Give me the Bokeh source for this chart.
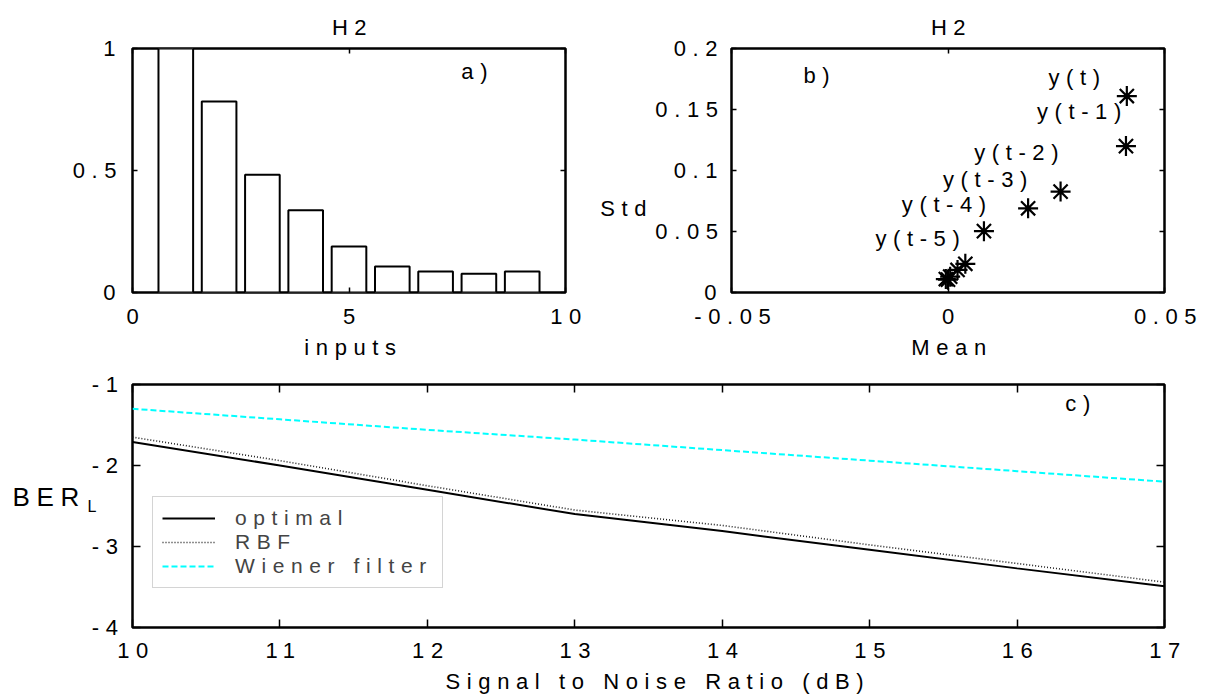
import math
from bokeh.plotting import figure
from bokeh.layouts import column, row
from bokeh.models import (Range1d, FixedTicker, CustomJSTickFormatter, LinearAxis,
                          Label, Legend, LegendItem, InlineStyleSheet,
                          CustomLabelingPolicy)
from bokeh.embed import file_html
from bokeh.resources import INLINE
from bokeh.core.properties import value

FONT = "Liberation Sans"
FS = "22px"

# ---------------- data ----------------
# a) input relevance (H2)
input_index = [1, 2, 3, 4, 5, 6, 7, 8, 9]
input_weight = [1.0, 0.783, 0.483, 0.337, 0.189, 0.107, 0.086, 0.077, 0.086]

# b) mean / std per lagged input (H2)
lag_mean = [0.0413, 0.0411, 0.0260, 0.0185, 0.0083, 0.0040, 0.0022, 0.0005, -0.0005, 0.0000]
lag_std = [0.161, 0.120, 0.0827, 0.069, 0.0503, 0.0235, 0.0185, 0.0130, 0.0110, 0.0105]
lag_labels = ["y(t)", "y(t-1)", "y(t-2)", "y(t-3)", "y(t-4)", "y(t-5)"]
label_mean = [0.0290, 0.0300, 0.0155, 0.0083, -0.0012, -0.0073]
label_std = [0.1766, 0.1480, 0.1150, 0.0930, 0.0723, 0.0440]

# c) log BER vs SNR
snr_db = [10, 11, 12, 13, 14, 15, 16, 17]
ber_optimal = [-1.71, -2.00, -2.30, -2.60, -2.81, -3.04, -3.27, -3.49]
ber_rbf = [-1.65, -1.94, -2.25, -2.55, -2.74, -2.98, -3.21, -3.44]
ber_wiener = [-1.30, -1.43, -1.56, -1.68, -1.81, -1.94, -2.07, -2.20]
series_names = ["optimal", "RBF", "Wiener filter"]

x_ticks_a = [0, 5, 10]
y_ticks_a = [0, 0.5, 1]
x_ticks_b = [-0.05, 0, 0.05]
y_ticks_b = [0, 0.05, 0.1, 0.15, 0.2]
x_ticks_c = [10, 11, 12, 13, 14, 15, 16, 17]
y_ticks_c = [-4, -3, -2, -1]

# heights at which the horizontal y-axis titles sit
std_title_at = 0.0685
ber_title_at = -2.395
sub_title_at = -2.512

# wide letter spacing as in the original; trailing blanks make Bokeh's
# measured width equal to the spaced, drawn width so alignment stays right
css = InlineStyleSheet(css=":host { letter-spacing: 6.6px; }")


def sp(t):
    return t + " " * (len(t) - 1)


fmt = CustomJSTickFormatter(
    code="const s = String(tick); return s + ' '.repeat(Math.max(s.length - 1, 0));")
blank_fmt = CustomJSTickFormatter(code="return '';")
no_labels = CustomLabelingPolicy(code="for (const i of indices) { indices.unset(i) } return indices")


def make_fig(xr, yr, fw, fh, left, right, top, bottom, title=None):
    p = figure(x_range=Range1d(*xr), y_range=Range1d(*yr),
               frame_width=fw, frame_height=fh,
               min_border_left=left, min_border_right=right,
               min_border_top=top, min_border_bottom=bottom,
               output_backend="svg", toolbar_location=None,
               stylesheets=[css], title=title)
    p.grid.visible = False
    p.outline_line_color = "black"
    p.outline_line_width = 2.5
    p.background_fill_color = "white"
    p.border_fill_color = "white"
    if title is not None:
        p.title.align = "center"
        p.title.text_font = FONT
        p.title.text_font_size = FS
        p.title.text_font_style = "normal"
        p.title.text_color = "black"
        p.title.standoff = 17
    return p


def style_axes(p, xt, yt, tick_in, xlabel, xstand, lstand, ystand):
    for ax, ticks in ((p.xaxis[0], xt), (p.yaxis[0], yt)):
        ax.ticker = FixedTicker(ticks=ticks)
        ax.formatter = fmt
        ax.axis_line_color = None
        ax.major_tick_in = tick_in
        ax.major_tick_out = 0
        ax.major_tick_line_width = 1.5
        ax.major_tick_line_color = "black"
        ax.minor_tick_line_color = None
        ax.major_label_text_font = FONT
        ax.major_label_text_font_size = FS
        ax.major_label_text_color = "black"
    p.xaxis[0].major_label_standoff = xstand
    p.yaxis[0].major_label_standoff = ystand
    p.xaxis[0].axis_label = sp(xlabel)
    p.xaxis[0].axis_label_text_font = FONT
    p.xaxis[0].axis_label_text_font_size = FS
    p.xaxis[0].axis_label_text_font_style = "normal"
    p.xaxis[0].axis_label_text_color = "black"
    p.xaxis[0].axis_label_standoff = lstand
    for place, ticks in (("above", xt), ("right", yt)):
        ax = LinearAxis(ticker=FixedTicker(ticks=ticks), axis_line_color=None,
                        major_tick_in=tick_in, major_tick_out=0,
                        major_tick_line_width=1.5, major_tick_line_color="black",
                        minor_tick_line_color=None, formatter=blank_fmt,
                        major_label_policy=no_labels, major_label_standoff=0)
        p.add_layout(ax, place)


def side_title(p, text, at, size, standoff):
    # a horizontal y-axis title, placed at a data height through an extra left axis
    ax = LinearAxis(ticker=FixedTicker(ticks=[at]), axis_line_color=None,
                    major_tick_line_color=None, minor_tick_line_color=None,
                    major_tick_in=0, major_tick_out=0,
                    minor_tick_in=0, minor_tick_out=0,
                    formatter=CustomJSTickFormatter(code="return %r;" % text),
                    major_label_text_font=FONT, major_label_text_font_size=size,
                    major_label_text_color="black", major_label_standoff=standoff)
    p.add_layout(ax, "left")


def add_label(p, x, y, text):
    p.add_layout(Label(x=x, y=y, text=sp(text), text_font=FONT, text_font_size=FS,
                       text_align="center", text_baseline="middle", text_color="black"))


# ---------------- a) ----------------
p1 = make_fig((0, 10), (0, 1), 433, 244, 132, 30, 48, 78, title=sp("H2"))
p1.vbar(x=input_index, top=input_weight, width=0.8, bottom=0,
        fill_color="white", line_color="black", line_width=2)
style_axes(p1, x_ticks_a, y_ticks_a, 5, "inputs", 11, 3, 17)
add_label(p1, 7.89, 0.904, "a)")

# ---------------- b) ----------------
p2 = make_fig((-0.05, 0.05), (0, 0.2), 433, 244, 136, 39, 48, 78, title=sp("H2"))
p2.scatter(lag_mean, lag_std, marker="asterisk", size=20, angle=math.pi / 2,
           line_color="black", line_width=2.2)
p2.text(x=label_mean, y=label_std, text=[sp(t) for t in lag_labels],
        text_font=value(FONT), text_font_size=FS, text_align="center",
        text_baseline="middle", text_color="black")
style_axes(p2, x_ticks_b, y_ticks_b, 5, "Mean", 11, 3, 15)
side_title(p2, sp("Std"), std_title_at, FS, 7)
add_label(p2, -0.0304, 0.178, "b)")

# ---------------- c) ----------------
p3 = make_fig((10, 17), (-4, -1), 1032, 243, 132, 39, 14, 70)
r_opt = p3.line(snr_db, ber_optimal, line_color="black", line_width=2)
r_rbf = p3.line(snr_db, ber_rbf, line_color="#202020", line_width=1.6, line_dash="1 2")
r_wie = p3.line(snr_db, ber_wiener, line_color="#00FFFF", line_width=2, line_dash="6 3")
style_axes(p3, x_ticks_c, y_ticks_c, 8, "Signal to Noise Ratio (dB)", 10, 3, 15)
side_title(p3, "L", sub_title_at, "16px", -8)
side_title(p3, sp("BER"), ber_title_at, "26px", 4)
add_label(p3, 16.41, -1.23, "c)")

legend = Legend(items=[LegendItem(label=series_names[0], renderers=[r_opt]),
                       LegendItem(label=series_names[1], renderers=[r_rbf]),
                       LegendItem(label=series_names[2], renderers=[r_wie])],
                location=(20, 39), label_text_font=FONT, label_text_font_size="21px",
                glyph_width=53, glyph_height=20, label_height=20, label_standoff=20,
                label_width=131, padding=9, spacing=0, margin=0,
                border_line_color="#aaaaaa", border_line_width=1.5,
                background_fill_color="white", background_fill_alpha=1)
p3.add_layout(legend)

layout = column(row(p1, p2), p3)
open("out.html", "w").write(file_html(layout, INLINE))
